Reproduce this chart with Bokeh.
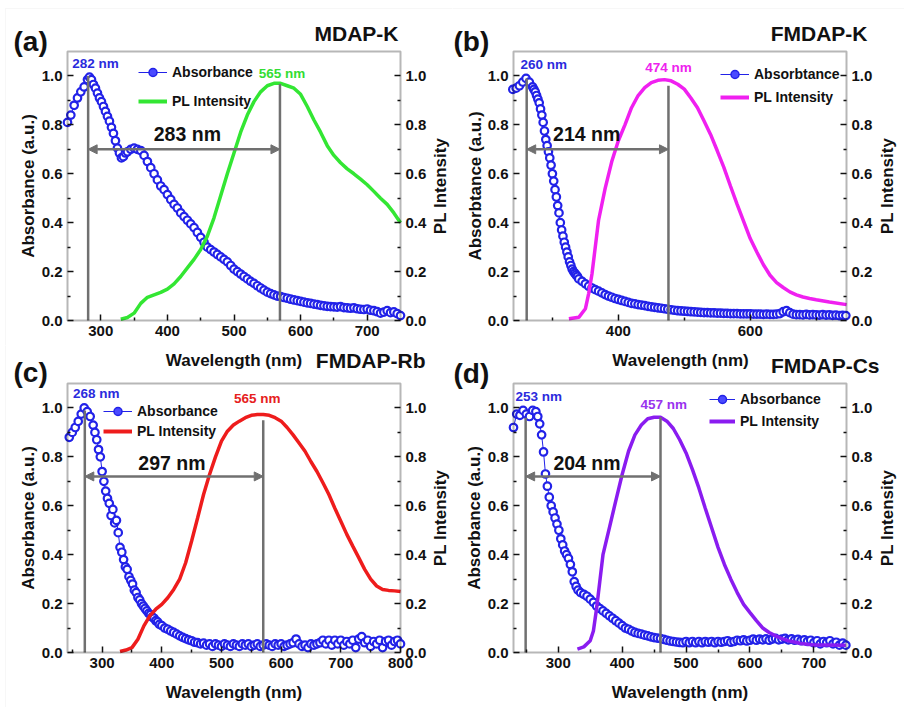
from bokeh.plotting import figure
from bokeh.models import (Range1d, LinearAxis, FixedTicker, NumeralTickFormatter,
                          Label, Legend, LegendItem, Arrow, NormalHead, BoxAnnotation)
from bokeh.layouts import column, row
from bokeh.embed import file_html
from bokeh.resources import INLINE

FONT = "Liberation Sans"
BLUE = "#2222e8"
GRAY = "#707070"
INK = "#111111"
YMAX = 1.1
NAN = float("nan")

# ---------------- data ----------------
# (a) MDAP-K
a_abs_wl = list(range(250, 285, 5)) + list(range(283, 340, 3)) + list(range(340, 755, 5))
a_abs = [0.81, 0.84, 0.88, 0.91, 0.935, 0.955, 0.985,
         0.995, 0.985, 0.965, 0.95, 0.93, 0.91, 0.895, 0.875, 0.855, 0.835,
         0.815, 0.79, 0.765, 0.735, 0.705, 0.685, 0.665, 0.67, 0.685,
         0.69, 0.70, 0.705, 0.70, 0.695, 0.675, 0.65, 0.625, 0.60, 0.575,
         0.55, 0.535, 0.515, 0.495, 0.475, 0.46, 0.44, 0.425, 0.41, 0.395,
         0.38, 0.36, 0.34, 0.32, 0.30, 0.29, 0.28, 0.27, 0.26, 0.25,
         0.24, 0.225, 0.21, 0.20, 0.19, 0.18, 0.17, 0.16, 0.152, 0.142,
         0.133, 0.124, 0.116, 0.11, 0.105, 0.10, 0.098, 0.094, 0.091, 0.087,
         0.084, 0.081, 0.078, 0.075, 0.072, 0.07, 0.067, 0.065, 0.062, 0.06,
         0.058, 0.057, 0.056, 0.055, 0.057, 0.053, 0.052, 0.05, 0.052, 0.048,
         0.046, 0.045, 0.047, 0.042, 0.04, 0.036, 0.03, 0.034, 0.04, 0.032,
         0.035, 0.028, 0.02]
a_pl_wl = list(range(330, 760, 10))
a_pl = [0.005, 0.012, 0.03, 0.07, 0.095, 0.105, 0.115, 0.128, 0.15, 0.18,
        0.215, 0.25, 0.29, 0.345, 0.42, 0.51, 0.60, 0.685, 0.77, 0.84,
        0.895, 0.935, 0.96, 0.97, 0.97, 0.96, 0.95, 0.925, 0.875, 0.82,
        0.77, 0.715, 0.675, 0.645, 0.62, 0.60, 0.578, 0.555, 0.528, 0.50,
        0.475, 0.44, 0.40]

# (b) FMDAP-K
b_abs_wl = list(range(240, 270, 5)) + list(range(270, 340, 2)) + list(range(340, 750, 5))
b_abs = [0.945, 0.95, 0.96, 0.975, 0.99, 0.975,
         0.955, 0.945, 0.935, 0.92, 0.905, 0.89, 0.865, 0.84, 0.81, 0.775,
         0.74, 0.715, 0.69, 0.665, 0.635, 0.60, 0.57, 0.535, 0.505, 0.47,
         0.44, 0.40, 0.37, 0.345, 0.32, 0.30, 0.28, 0.26, 0.24, 0.225,
         0.21, 0.20, 0.193, 0.186, 0.18,
         0.17, 0.16, 0.15, 0.14, 0.133, 0.126, 0.12, 0.113, 0.106, 0.10,
         0.095, 0.09, 0.086, 0.082, 0.078, 0.074, 0.07, 0.068, 0.065, 0.063,
         0.061, 0.058, 0.056, 0.054, 0.052, 0.05, 0.048, 0.046, 0.044, 0.042,
         0.04, 0.039, 0.038, 0.037, 0.036, 0.035, 0.034, 0.033, 0.032, 0.032,
         0.031, 0.031, 0.03, 0.03, 0.029, 0.029, 0.028, 0.028, 0.028, 0.027,
         0.027, 0.027, 0.027, 0.026, 0.026, 0.026, 0.025, 0.026, 0.025, 0.025,
         0.026, 0.028, 0.036, 0.04, 0.032, 0.026, 0.024, 0.024, 0.023, 0.025,
         0.023, 0.024, 0.023, 0.022, 0.024, 0.022, 0.023, 0.021, 0.022, 0.02,
         0.021, 0.02]
b_pl_wl = [325, 340, 350, 355, 360, 365, 370, 380, 390, 400, 410, 420, 430, 440,
           450, 460, 470, 480, 490, 500, 510, 520, 530, 540, 550, 560, 570, 580,
           590, 600, 610, 620, 630, 640, 650, 660, 670, 680, 690, 700, 720, 746]
b_pl = [0.007, 0.013, 0.048, 0.11, 0.19, 0.30, 0.41, 0.54, 0.65, 0.735, 0.80, 0.87,
        0.92, 0.952, 0.973, 0.982, 0.985, 0.98, 0.966, 0.946, 0.91, 0.87, 0.816,
        0.76, 0.694, 0.626, 0.55, 0.476, 0.405, 0.335, 0.28, 0.228, 0.185, 0.155,
        0.135, 0.117, 0.105, 0.096, 0.09, 0.085, 0.076, 0.065]

# (c) FMDAP-Rb
c_abs_wl = list(range(245, 285, 5)) + list(range(285, 398, 3)) + list(range(400, 805, 5))
c_abs = [0.88, 0.90, 0.92, 0.945, 0.975, 1.0, 0.985, 0.965,
         0.93, 0.90, 0.87, 0.83, 0.80, 0.74, 0.70, 0.66, 0.63, 0.61,
         0.56, 0.585, 0.53, 0.54, 0.49, 0.43, 0.41, 0.38, 0.35, 0.34,
         0.31, 0.295, 0.28, 0.255, 0.245, 0.225, 0.215, 0.20, 0.19, 0.18,
         0.17, 0.16, 0.155, 0.145, 0.14, 0.13, 0.125, 0.115,
         0.11, 0.10, 0.095, 0.088, 0.082, 0.075, 0.068, 0.062, 0.057, 0.052,
         0.048, 0.042, 0.04, 0.035, 0.038, 0.03, 0.035, 0.025, 0.035, 0.03,
         0.025, 0.035, 0.03, 0.025, 0.035, 0.03, 0.025, 0.035, 0.03, 0.035,
         0.025, 0.03, 0.035, 0.025, 0.03, 0.035, 0.03, 0.025, 0.035, 0.03,
         0.035, 0.025, 0.03, 0.035, 0.04, 0.055, 0.035, 0.025, 0.03, 0.02,
         0.035, 0.03, 0.035, 0.04, 0.05, 0.035, 0.05, 0.03, 0.05, 0.035,
         0.05, 0.03, 0.045, 0.035, 0.05, 0.02, 0.055, 0.065, 0.04, 0.05,
         0.025, 0.045, 0.035, 0.05, 0.02, 0.045, 0.05, 0.03, 0.045, 0.05,
         0.035]
c_pl_wl = list(range(330, 810, 10))
c_pl = [0.004, 0.01, 0.02, 0.054, 0.109, 0.15, 0.177, 0.197, 0.224, 0.258,
        0.30, 0.367, 0.456, 0.55, 0.646, 0.728, 0.80, 0.864, 0.905, 0.93,
        0.946, 0.96, 0.97, 0.973, 0.973, 0.97, 0.96, 0.946, 0.92, 0.89,
        0.857, 0.823, 0.78, 0.74, 0.694, 0.646, 0.59, 0.537, 0.483, 0.435,
        0.388, 0.34, 0.30, 0.272, 0.258, 0.254, 0.252, 0.249]

# (d) FMDAP-Cs
d_abs_wl = list(range(230, 265, 5)) + list(range(265, 334, 3)) + list(range(335, 755, 5))
d_abs = [0.92, 0.975, 0.97, 0.99, 0.975, 0.965, 0.99,
         0.985, 0.965, 0.935, 0.89, 0.82, 0.73, 0.68, 0.635, 0.60, 0.575,
         0.55, 0.525, 0.50, 0.465, 0.44, 0.415, 0.40, 0.385, 0.36, 0.33,
         0.29, 0.27, 0.255,
         0.245, 0.238, 0.23, 0.218, 0.205, 0.19, 0.18, 0.17, 0.16, 0.15,
         0.14, 0.13, 0.12, 0.11, 0.10, 0.095, 0.088, 0.082, 0.078, 0.075,
         0.071, 0.068, 0.064, 0.061, 0.059, 0.057, 0.054, 0.05, 0.047, 0.045,
         0.043, 0.041, 0.04, 0.045, 0.04, 0.045, 0.04, 0.045, 0.04, 0.045,
         0.042, 0.045, 0.04, 0.045, 0.042, 0.045, 0.048, 0.042, 0.045, 0.05,
         0.048, 0.052, 0.047, 0.05, 0.055, 0.05, 0.055, 0.052, 0.056, 0.05,
         0.055, 0.058, 0.052, 0.055, 0.058, 0.052, 0.056, 0.05, 0.054, 0.048,
         0.052, 0.045, 0.05, 0.04, 0.048, 0.035, 0.045, 0.04, 0.048, 0.035,
         0.042, 0.03, 0.038, 0.03]
d_pl_wl = [330, 340, 350, 355, 360, 365, 370, 380, 390, 400, 410, 420, 430, 440,
           450, 460, 470, 480, 490, 500, 510, 520, 530, 540, 550, 560, 570, 580,
           590, 600, 610, 620, 630, 640, 650, 660, 680, 700, 720, 750]
d_pl = [0.014, 0.023, 0.048, 0.088, 0.18, 0.29, 0.40, 0.51, 0.62, 0.728, 0.823,
        0.89, 0.93, 0.956, 0.962, 0.962, 0.946, 0.916, 0.87, 0.816, 0.748, 0.673,
        0.59, 0.51, 0.43, 0.36, 0.30, 0.245, 0.197, 0.163, 0.13, 0.10, 0.082,
        0.068, 0.057, 0.048, 0.037, 0.031, 0.031, 0.03]

# peak guide lines (wavelength, top), Stokes-shift arrow height, texts
abs_peak_x = [281, 261, 271, 249]
abs_peak_top = [1.0, 0.99, 0.99, 0.96]
pl_peak_x = [569, 476, 570, 460]
pl_peak_top = [0.967, 0.96, 0.95, 0.962]
shift_y = [0.70, 0.70, 0.72, 0.72]
abs_peak_text = ["282 nm", "260 nm", "268 nm", "253 nm"]
pl_peak_text = ["565 nm", "474 nm", "565 nm", "457 nm"]
shift_text = ["283 nm", "214 nm", "297 nm", "204 nm"]
names = ["MDAP-K", "FMDAP-K", "FMDAP-Rb", "FMDAP-Cs"]
letters = ["(a)", "(b)", "(c)", "(d)"]
abs_names = ["Absorbance", "Absorbtance", "Absorbance", "Absorbance"]
x_major = [[300, 400, 500, 600, 700], [400, 600], [300, 400, 500, 600, 700, 800],
           [300, 400, 500, 600, 700]]
x_minor = [[350, 450, 550, 650], [300, 500, 700], [250, 350, 450, 550, 650, 750],
           [250, 350, 450, 550, 650]]
y_major = [0.0, 0.2, 0.4, 0.6, 0.8, 1.0]
y_minor = [0.1, 0.3, 0.5, 0.7, 0.9]
pl_colors = ["#33e633", "#f020f0", "#ee1c1c", "#8a1cf0"]
pl_text_colors = ["#33dd33", "#ee22ee", "#e62020", "#9933ee"]


def style_axis(ax):
    ax.major_label_text_font = FONT
    ax.major_label_text_font_style = "bold"
    ax.major_label_text_font_size = "15px"
    ax.major_label_text_color = INK
    ax.axis_line_color = None
    ax.major_tick_in = 6
    ax.major_tick_out = 0
    ax.minor_tick_in = 3
    ax.minor_tick_out = 0
    ax.major_tick_line_width = 1.5
    ax.minor_tick_line_width = 1.5
    ax.major_tick_line_color = INK
    ax.minor_tick_line_color = INK
    ax.major_label_standoff = 5


def px_label(p, text, x, y, size, align="center", angle=0, color=INK):
    # x, y: pixels from the figure's top-left corner
    p.add_layout(Label(x=x, y=p.height - y, x_units="screen", y_units="screen", text=text,
                       text_font=FONT, text_font_style="bold", text_font_size=size,
                       text_color=color, text_align=align, text_baseline="middle",
                       angle=angle, angle_units="deg"))


def data_label(p, text, x, y, size, color=INK):
    p.add_layout(Label(x=x, y=y, text=text, text_font=FONT, text_font_style="bold",
                       text_font_size=size, text_color=color, text_align="center",
                       text_baseline="middle"))


def make_panel(i, abs_wl, abs_val, pl_wl, pl_val, L):
    assert len(abs_wl) == len(abs_val) and len(pl_wl) == len(pl_val)
    W, H = L["w"], L["h"]
    fl, fr, ft, fb = L["box"]
    x0, x1 = L["xr"]
    sx = (fr - fl) / (x1 - x0)
    sy = (fb - ft) / YMAX
    xr = Range1d(x0 - fl / sx, x1 + (W - fr) / sx)
    y_lo, y_hi = -(H - fb) / sy, YMAX + ft / sy
    p = figure(width=W, height=H, x_range=xr, y_range=Range1d(y_lo, y_hi),
               output_backend="svg", toolbar_location=None, min_border=0,
               background_fill_color="white", border_fill_color="white",
               outline_line_color=None)
    p.title.visible = False
    p.grid.visible = False
    p.extra_y_ranges = {"pl": Range1d(y_lo, y_hi)}

    # faint page border (top / left edges of the original figure)
    bl, bt = L["pageedge"]
    p.add_layout(BoxAnnotation(left=bl, right=W + 20, bottom=-20, top=H - bt,
                               left_units="screen", right_units="screen",
                               bottom_units="screen", top_units="screen",
                               fill_alpha=0, line_color="#e6e6e6", line_width=1))

    p.xaxis.fixed_location = 0
    p.xaxis.ticker = FixedTicker(ticks=x_major[i], minor_ticks=x_minor[i])
    p.yaxis.fixed_location = x0
    p.yaxis.ticker = FixedTicker(ticks=y_major, minor_ticks=y_minor)
    p.yaxis.formatter = NumeralTickFormatter(format="0.0")
    for ax in p.xaxis + p.yaxis:
        style_axis(ax)
    ra = LinearAxis(y_range_name="pl", fixed_location=x1,
                    ticker=FixedTicker(ticks=y_major, minor_ticks=y_minor),
                    formatter=NumeralTickFormatter(format="0.0"))
    style_axis(ra)
    p.add_layout(ra, "right")
    p.add_layout(BoxAnnotation(left=x0, right=x1, bottom=0, top=YMAX, fill_alpha=0,
                               line_color=INK, line_width=2))

    col = pl_colors[i]
    p.line(abs_wl, abs_val, line_color=BLUE, line_width=1)
    p.scatter(abs_wl, abs_val, marker="circle", size=7.5, line_color=BLUE,
              line_width=2.2, fill_color="white")
    p.line(pl_wl, pl_val, line_color=col, line_width=3.5, y_range_name="pl")
    p.segment(x0=[abs_peak_x[i], pl_peak_x[i]], y0=[0, 0],
              x1=[abs_peak_x[i], pl_peak_x[i]], y1=[abs_peak_top[i], pl_peak_top[i]],
              line_color=GRAY, line_width=2.5)
    p.add_layout(Arrow(start=NormalHead(size=9, fill_color=GRAY, line_color=GRAY),
                       end=NormalHead(size=9, fill_color=GRAY, line_color=GRAY),
                       x_start=abs_peak_x[i], y_start=shift_y[i],
                       x_end=pl_peak_x[i], y_end=shift_y[i],
                       line_color=GRAY, line_width=2.5))

    # legend (proxy glyphs without visible data)
    l1 = p.line([NAN], [NAN], line_color=BLUE, line_width=1)
    l2 = p.scatter([NAN], [NAN], marker="circle", size=7, fill_color="#4a4aff",
                   line_color=BLUE, line_width=1.5)
    l3 = p.line([NAN], [NAN], line_color=col, line_width=4)
    leg = Legend(items=[LegendItem(label=abs_names[i], renderers=[l1, l2]),
                        LegendItem(label="PL Intensity", renderers=[l3])],
                 location=L["leg"], padding=0, margin=0, spacing=L["sp"],
                 glyph_width=L["gw"], glyph_height=20, label_height=20,
                 label_standoff=5, background_fill_alpha=0, border_line_alpha=0,
                 label_text_font=FONT, label_text_font_style="bold",
                 label_text_font_size="14px", label_text_color=INK)
    p.add_layout(leg)

    data_label(p, abs_peak_text[i], *L["t_abs"], "13.5px", color="#2b2bdd")
    data_label(p, pl_peak_text[i], *L["t_pl"], "13.5px", color=pl_text_colors[i])
    data_label(p, shift_text[i], *L["t_shift"], "19.5px")

    cy = (ft + fb) / 2
    px_label(p, letters[i], L["letter"][0], L["letter"][1], "28px", align="left")
    px_label(p, names[i], L["title"][0], L["title"][1], "21px", align="right")
    px_label(p, abs_names[i] + " (a.u.)", L["ylab_x"], cy, "17px", angle=90)
    px_label(p, "PL Intensity", L["plx"], cy, "17px", angle=90)
    if L.get("xlab_y"):
        px_label(p, "Wavelength (nm)", (fl + fr) / 2, L["xlab_y"], "17px")
    if L.get("top_xlab"):
        px_label(p, "Wavelength (nm)", L["top_xlab"][0], L["top_xlab"][1], "17px")
    return p


LA = dict(w=452, h=345, box=(67, 400, 51, 320), xr=(250, 750),
          leg=(138, 234), sp=9, gw=29,
          t_abs=(292, 1.05), t_pl=(572, 1.012), t_shift=(430, 0.763),
          letter=(13, 41), title=(398, 33), ylab_x=28, plx=440, pageedge=(5, 8))
LB = dict(w=452, h=345, box=(61, 394, 51, 320), xr=(241, 746),
          leg=(268, 238), sp=3, gw=29,
          t_abs=(287, 1.045), t_pl=(476, 1.033), t_shift=(352, 0.763),
          letter=(1, 41), title=(415, 33), ylab_x=23, plx=435, pageedge=(-20, 8))
LC = dict(w=452, h=362, box=(67, 400, 38, 307), xr=(242, 800),
          leg=(103, 266), sp=0, gw=29,
          t_abs=(290, 1.061), t_pl=(560, 1.037), t_shift=(417, 0.776),
          letter=(13, 27), title=(425, 15), ylab_x=28, plx=440,
          xlab_y=347, top_xlab=(233.5, 15), pageedge=(5, -20))
LD = dict(w=452, h=362, box=(61, 394, 38, 307), xr=(230, 751),
          leg=(257, 276), sp=2, gw=26,
          t_abs=(269.5, 1.045), t_pl=(465, 1.016), t_shift=(345, 0.776),
          letter=(1, 28), title=(427, 20), ylab_x=22, plx=435,
          xlab_y=347, top_xlab=(228, 15), pageedge=(-20, -20))

pa = make_panel(0, a_abs_wl, a_abs, a_pl_wl, a_pl, LA)
pb = make_panel(1, b_abs_wl, b_abs, b_pl_wl, b_pl, LB)
pc = make_panel(2, c_abs_wl, c_abs, c_pl_wl, c_pl, LC)
pd = make_panel(3, d_abs_wl, d_abs, d_pl_wl, d_pl, LD)

layout = column(row(pa, pb), row(pc, pd))
open("out.html", "w").write(file_html(layout, INLINE))
